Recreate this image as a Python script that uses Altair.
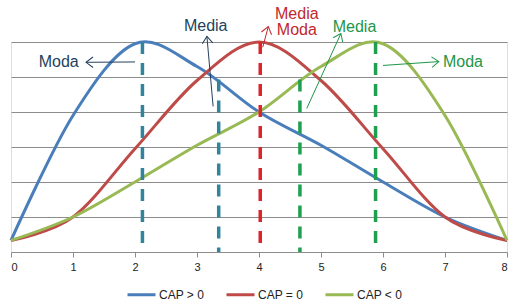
import math
import altair as alt
import pandas as pd

# ---- data ----
x_vals = [0, 1, 2, 3, 4, 5, 6, 7, 8]
cap_pos = [0.33, 3.9, 5.95, 5.3, 4.0, 3.05, 2.0, 1.0, 0.33]
cap_zero = [0.33, 1.0, 2.95, 4.9, 6.0, 4.9, 2.95, 1.0, 0.33]
cap_neg = [0.33, 1.0, 2.0, 3.05, 4.0, 5.3, 5.95, 3.9, 0.33]
series_names = ["CAP > 0", "CAP = 0", "CAP < 0"]
series_colors = ["#4A7EBB", "#BE4B48", "#98B954"]

# dashed reference lines (mode / mean positions)
ref_x = [2.12, 3.35, 4.02, 4.66, 5.88]
ref_top = [6.0, 4.93, 6.0, 4.93, 6.0]
ref_colors = ["#31849B", "#31849B", "#DC242B", "#1FA050", "#1FA050"]

# annotation labels
ann_text = ["Moda", "Media", "Media", "Moda", "Media", "Moda"]
ann_x = [0.77, 3.14, 4.61, 4.61, 5.54, 7.29]
ann_y = [5.42, 6.47, 6.79, 6.33, 6.44, 5.44]
ann_colors = ["#243F60", "#243F60", "#C0282D", "#C0282D", "#1E9648", "#1E9648"]

# annotation arrows: start -> tip
arr_x0 = [2.0, 3.26, 4.06, 4.77, 6.0]
arr_y0 = [5.43, 4.16, 5.85, 4.10, 5.33]
arr_x1 = [1.21, 3.16, 4.15, 5.32, 6.90]
arr_y1 = [5.42, 6.16, 6.44, 6.24, 5.44]
arr_colors = ["#243F60", "#243F60", "#C0282D", "#1E9648", "#1E9648"]

# ---- layout ----
W, H = 496, 210
XMAX, YMAX = 8, 6
FONT = "Liberation Sans"

lines_df = pd.DataFrame({
    "x": x_vals * 3,
    "y": cap_pos + cap_zero + cap_neg,
    "serie": [series_names[0]] * 9 + [series_names[1]] * 9 + [series_names[2]] * 9,
})
ref_df = pd.DataFrame({"x": ref_x, "top": ref_top, "bottom": [0] * len(ref_x), "c": ref_colors})
ann_df = pd.DataFrame({"x": ann_x, "y": ann_y, "t": ann_text, "c": ann_colors})

px_x, px_y = W / XMAX, H / YMAX
angles = [
    math.degrees(math.atan2(-(y1 - y0) * px_y, (x1 - x0) * px_x)) % 360
    for x0, y0, x1, y1 in zip(arr_x0, arr_y0, arr_x1, arr_y1)
]
arr_df = pd.DataFrame({"x0": arr_x0, "y0": arr_y0, "x1": arr_x1, "y1": arr_y1,
                       "c": arr_colors, "ang": angles})

xs = alt.Scale(domain=[0, XMAX], nice=False, zero=False)
ys = alt.Scale(domain=[0, YMAX], nice=False, zero=False)

x_axis = alt.Axis(values=x_vals, format="d", grid=False, title=None,
                  domainColor="#8C8C8C", tickColor="#8C8C8C", tickSize=5,
                  labelFont=FONT, labelFontSize=11, labelColor="#222222",
                  labelPadding=4)
y_axis = alt.Axis(values=[1, 2, 3, 4, 5, 6], grid=True, gridColor="#8C8C8C",
                  gridWidth=1, domain=False, ticks=False, labels=False, title=None)

lines = alt.Chart(lines_df).mark_line(interpolate="cardinal", strokeWidth=3).encode(
    x=alt.X("x:Q", scale=xs, axis=x_axis),
    y=alt.Y("y:Q", scale=ys, axis=y_axis),
    color=alt.Color("serie:N", scale=alt.Scale(domain=series_names, range=series_colors),
                    sort=series_names,
                    legend=alt.Legend(title=None, orient="none", direction="horizontal",
                                      legendX=115, legendY=237, symbolType="stroke",
                                      symbolSize=784, symbolStrokeWidth=3,
                                      labelFont=FONT, labelFontSize=12, labelColor="#222222",
                                      labelOffset=2, columnPadding=15, padding=0)),
    order=alt.Order("x:Q"),
)

refs = alt.Chart(ref_df).mark_rule(strokeDash=[12, 9], strokeWidth=3.5).encode(
    x=alt.X("x:Q", scale=xs),
    y=alt.Y("top:Q", scale=ys),
    y2="bottom:Q",
    color=alt.Color("c:N", scale=None),
)

arr_lines = alt.Chart(arr_df).mark_rule(strokeWidth=1).encode(
    x=alt.X("x0:Q", scale=xs), y=alt.Y("y0:Q", scale=ys),
    x2="x1:Q", y2="y1:Q",
    color=alt.Color("c:N", scale=None),
)

arr_heads = alt.Chart(arr_df).mark_point(
    shape="M -1 -0.75 L 0 0 L -1 0.75", filled=False, size=196, strokeWidth=1, opacity=1
).encode(
    x=alt.X("x1:Q", scale=xs), y=alt.Y("y1:Q", scale=ys),
    angle=alt.Angle("ang:Q", scale=None),
    color=alt.Color("c:N", scale=None),
)

texts = alt.Chart(ann_df).mark_text(font=FONT, fontSize=16, align="center",
                                    baseline="middle").encode(
    x=alt.X("x:Q", scale=xs), y=alt.Y("y:Q", scale=ys),
    text="t:N",
    color=alt.Color("c:N", scale=None),
)

chart = alt.layer(lines, refs, arr_lines, arr_heads, texts).resolve_scale(
    color="independent"
).properties(
    width=W, height=H,
    autosize=alt.AutoSizeParams(type="none"),
    padding={"left": 11, "top": 42, "right": 11, "bottom": 53},
).configure_view(stroke=None).configure(background="white")

chart.save("out.html", embed_options={"renderer": "svg", "actions": False})
